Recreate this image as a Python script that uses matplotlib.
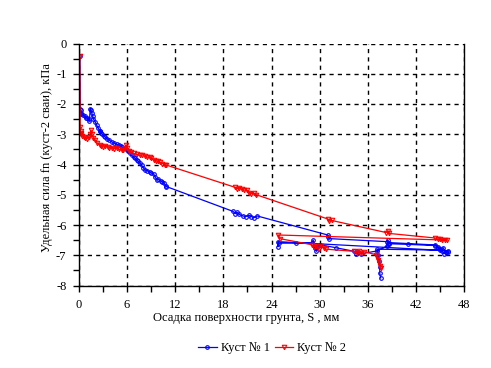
import matplotlib
matplotlib.use("Agg")
import matplotlib.pyplot as plt
from matplotlib.ticker import MultipleLocator

plt.rcParams['font.family'] = ['Liberation Serif', 'DejaVu Serif']
plt.rcParams['axes.unicode_minus'] = False

# Куст № 1 (blue, circles)
blue_x = [0.1, 0.15, 0.2, 0.25, 0.3, 0.5, 0.7, 0.9, 1.0, 1.2, 1.3, 1.4, 1.5, 1.6, 1.7,
          1.8, 2.0, 2.2, 2.4, 2.6, 2.8, 2.6, 2.9, 3.1, 3.3, 3.5, 3.8, 4.1, 4.4, 4.7,
          5.0, 5.2, 5.4, 5.7, 5.9, 6.1, 6.3, 6.6, 6.8, 7.0, 7.2, 7.4, 7.6, 7.8, 8.0,
          8.2, 8.5, 8.8, 9.0, 9.3, 9.5, 9.7, 9.9, 10.2, 10.4, 10.6, 10.8, 10.9,
          19.2, 19.5, 19.7, 20.0, 20.4, 20.8, 21.2, 21.5, 21.8, 22.2,
          31.0, 31.1, 31.2, 38.4, 38.5, 38.6, 44.4, 44.7, 45.0, 45.4, 45.7, 46.0,
          24.8, 24.8, 24.9, 27.0, 29.0, 29.2, 29.4, 29.6, 29.8, 30.0, 32.0,
          34.3, 34.5, 34.8, 35.2, 37.1, 38.4, 38.5, 38.6, 41.0, 44.4, 44.8, 45.2,
          45.5, 45.8, 46.0, 45.0, 37.2, 37.3, 37.4, 37.5, 37.5, 37.6]
blue_y = [-0.4, -2.15, -2.2, -2.3, -2.33, -2.36, -2.4, -2.45, -2.47, -2.5, -2.55, -2.15,
          -2.2, -2.3, -2.4, -2.5, -2.58, -2.7, -2.8, -2.9, -2.95, -2.88, -3.0, -3.05,
          -3.1, -3.15, -3.2, -3.25, -3.3, -3.33, -3.36, -3.4, -3.42, -3.46, -3.5,
          -3.55, -3.62, -3.7, -3.75, -3.8, -3.85, -3.9, -3.95, -4.02, -4.1, -4.18,
          -4.2, -4.24, -4.28, -4.3, -4.42, -4.5, -4.48, -4.55, -4.57, -4.62, -4.7,
          -4.73, -5.55, -5.62, -5.58, -5.65, -5.7, -5.72, -5.68, -5.72,
          -5.76, -5.7, -6.33, -6.4, -6.45, -6.55, -6.62, -6.58, -6.66, -6.72, -6.8,
          -6.75, -6.9, -6.85, -6.55, -6.72, -6.6, -6.6, -6.58, -6.5, -6.75, -6.87,
          -6.7, -6.65, -6.75, -6.87, -6.95, -6.9, -6.95, -6.86, -6.7, -6.5, -6.62,
          -6.64, -6.68, -6.75, -6.85, -6.95, -6.9, -6.88, -6.83, -6.8, -7.0, -7.2,
          -7.4, -7.6, -7.75]

# Куст № 2 (red, triangles)
red_x = [0.1, 0.15, 0.2, 0.25, 0.3, 0.4, 0.6, 0.8, 1.0, 1.2, 1.4, 1.5, 1.6, 1.8, 2.0,
         2.3, 2.6, 2.8, 3.0, 3.3, 3.6, 3.8, 4.1, 4.4, 4.7, 5.0, 5.3, 5.5, 5.7, 5.9,
         6.0, 6.2, 6.5, 6.8, 7.2, 7.6, 7.9, 8.2, 8.5, 8.8, 9.0, 9.3, 9.6, 9.8, 10.1,
         10.4, 10.7, 10.9, 19.4, 19.7, 20.0, 20.3, 20.6, 20.9, 21.2,
         21.5, 21.8, 22.1, 31.0, 31.2, 31.5, 38.3, 38.5, 38.7, 44.4, 44.7, 45.0,
         45.3, 45.6, 45.9, 24.8, 25.0, 29.0, 29.3, 29.6, 29.9, 30.2, 30.5, 30.8,
         34.3, 34.6, 34.9, 35.2, 35.5, 37.0, 37.2, 37.3, 37.4, 37.5, 37.6]
red_y = [-0.4, -2.75, -2.9, -3.0, -2.95, -3.05, -3.08, -3.12, -3.15, -3.1, -3.0, -2.86,
         -3.0, -3.12, -3.18, -3.3, -3.36, -3.4, -3.42, -3.4, -3.42, -3.44, -3.45,
         -3.48, -3.46, -3.5, -3.52, -3.53, -3.45, -3.35, -3.45, -3.55, -3.6, -3.63,
         -3.66, -3.7, -3.68, -3.72, -3.76, -3.75, -3.8, -3.85, -3.88, -3.9, -3.93,
         -3.97, -4.0, -4.02, -4.75, -4.8, -4.77, -4.82, -4.85, -4.83,
         -4.93, -4.97, -4.95, -5.0, -5.8, -5.87, -5.85, -6.25, -6.2, -6.28, -6.43,
         -6.47, -6.45, -6.5, -6.48, -6.5, -6.33, -6.45, -6.65, -6.72, -6.68, -6.78,
         -6.7, -6.75, -6.8, -6.87, -6.92, -6.85, -6.93, -6.88, -6.98, -7.05, -7.15,
         -7.25, -7.35, -7.43]

x_ticks = [0, 6, 12, 18, 24, 30, 36, 42, 48]
y_ticks = [0, -1, -2, -3, -4, -5, -6, -7, -8]

fig = plt.figure(figsize=(4.91, 3.68), dpi=100)
ax = fig.add_axes([79 / 491, 1 - 285.5 / 368, 385 / 491, 242 / 368])

ax.plot(blue_x, blue_y, color='#0000ff', lw=0.9, marker='o', ms=2.6,
        mfc='none', mec='#0000ff', mew=0.8, label='Куст № 1')
ax.plot(red_x, red_y, color='#ff0000', lw=0.9, marker='v', ms=3.2,
        mfc='none', mec='#ff0000', mew=0.8, label='Куст № 2')

ax.set_xlim(0, 48)
ax.set_ylim(-8, 0)
ax.set_xticks(x_ticks)
ax.set_yticks(y_ticks)
ax.xaxis.set_minor_locator(MultipleLocator(3))
ax.yaxis.set_minor_locator(MultipleLocator(0.5))
ax.tick_params(which='both', direction='out', length=4, width=1, labelsize=9)
ax.tick_params(axis='x', pad=6)
ax.tick_params(axis='y', pad=5)

ax.grid(True, which='major', color='black', linestyle=(0, (3, 3)), linewidth=1)
ax.spines['top'].set_visible(False)
for s in ['left', 'bottom', 'right']:
    ax.spines[s].set_linewidth(1)

ax.set_xlabel('Осадка поверхности грунта, S , мм', fontsize=9)
ax.xaxis.set_label_coords(0.434, -0.11)
ax.set_ylabel('Удельная сила fn (куст-2 сваи), кПа', fontsize=9)
ax.yaxis.set_label_coords(-0.068, 0.53)

fig.legend(loc='center', bbox_to_anchor=(0.554, 0.054), ncol=2, frameon=False,
           fontsize=9, numpoints=1, handlelength=1.5, handletextpad=0.3,
           columnspacing=0.4)

fig.savefig('out.png', dpi=100)
